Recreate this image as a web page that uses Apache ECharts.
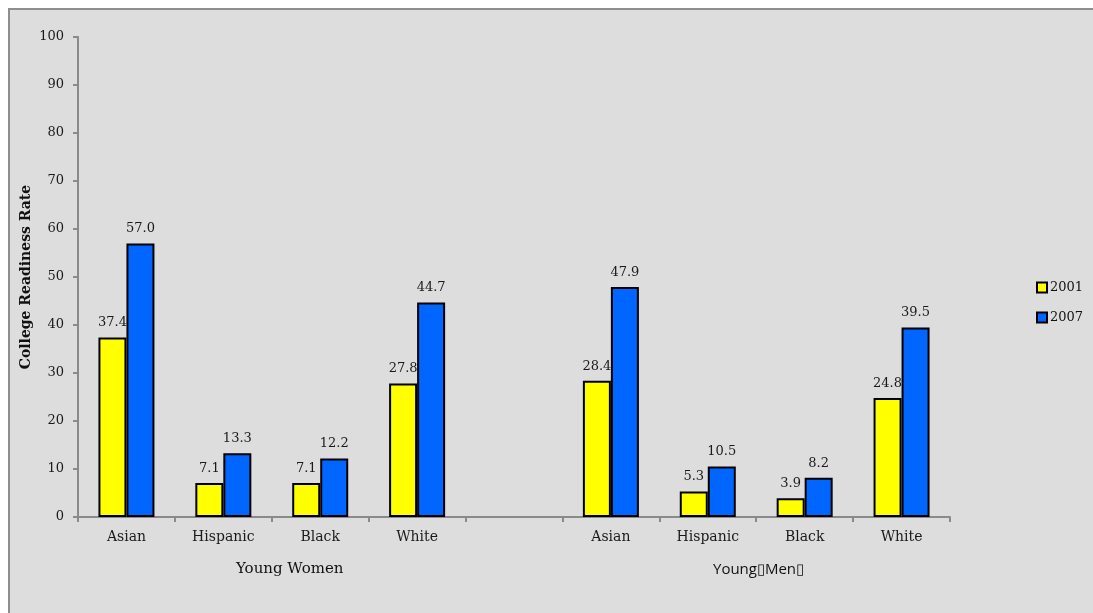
<!DOCTYPE html>
<html>
<head>
<meta charset="utf-8">
<script src="https://cdn.jsdelivr.net/npm/echarts@6/dist/echarts.min.js"></script>
<style>
  html, body { margin: 0; padding: 0; background: #ffffff; overflow: hidden; }
  #frame {
    position: absolute; left: 8px; top: 8px; width: 1200px; height: 700px;
    background: #dddddd; border-top: 2px solid #8e8e8e; border-left: 2px solid #8e8e8e;
  }
  #chart { position: absolute; left: 0; top: 0; width: 1093px; height: 613px; }
</style>
</head>
<body>
<div id="frame"></div>
<div id="chart"></div>
<script>
const categories = ['Asian', 'Hispanic', 'Black', 'White', '', 'Asian', 'Hispanic', 'Black', 'White']
const values2001 = [37.4, 7.1, 7.1, 27.8, null, 28.4, 5.3, 3.9, 24.8]
const values2007 = [57.0, 13.3, 12.2, 44.7, null, 47.9, 10.5, 8.2, 39.5]
const yTicks = [0, 10, 20, 30, 40, 50, 60, 70, 80, 90, 100]

const serif = '"DejaVu Serif", Georgia, serif'

const chart = echarts.init(document.getElementById('chart'), undefined, { renderer: 'canvas' })

function barSeries(name, data, color) {
  return {
    name,
    type: 'bar',
    data,
    barWidth: 28,
    barGap: '0%',
    itemStyle: { color, borderColor: '#000000', borderWidth: 2 },
    label: {
      show: true,
      position: 'top',
      distance: 8,
      color: '#1a1a1a',
      fontFamily: serif,
      fontSize: 13,
      formatter: (p) => p.value.toFixed(1),
    },
  }
}

chart.setOption({
  backgroundColor: 'transparent',
  animation: false,
  textStyle: { fontFamily: serif },
  grid: { left: 78, right: 143, top: 37, bottom: 96, containLabel: false },
  legend: {
    orient: 'vertical',
    left: 1031,
    top: 276,
    itemWidth: 10,
    itemHeight: 10,
    itemGap: 17,
    icon: 'rect',
    textStyle: { fontFamily: serif, fontSize: 13, color: '#111111', padding: [0, 0, 0, -2] },
    data: ['2001', '2007'],
  },
  xAxis: {
    type: 'category',
    data: categories,
    axisLine: { lineStyle: { color: '#8a8a8a', width: 2 } },
    axisTick: { show: true, length: 5, lineStyle: { color: '#8a8a8a', width: 2 } },
    axisLabel: { color: '#1a1a1a', fontFamily: serif, fontSize: 14, margin: 13 },
  },
  yAxis: {
    type: 'value',
    min: yTicks[0],
    max: yTicks[yTicks.length - 1],
    interval: 10,
    name: 'College Readiness Rate',
    nameLocation: 'middle',
    nameGap: 45,
    nameMoveOverlap: false,
    nameTextStyle: { fontFamily: serif, fontSize: 14, fontWeight: 'bold', color: '#111111' },
    axisLine: { show: true, lineStyle: { color: '#8a8a8a', width: 2 } },
    axisTick: { show: true, length: 5, lineStyle: { color: '#8a8a8a', width: 2 } },
    axisLabel: { color: '#1a1a1a', fontFamily: serif, fontSize: 13, margin: 14 },
    splitLine: { show: false },
  },
  graphic: [
    {
      type: 'text', left: 236, top: 562,
      style: { text: 'Young Women', font: '15px ' + serif, fill: '#111111' },
    },
    {
      type: 'text', left: 713, top: 562,
      style: { text: 'Young\u25AFMen\u25AF', font: '15px "Open Sans", sans-serif', fill: '#111111' },
    },
  ],
  series: [
    barSeries('2001', values2001, '#ffff00'),
    barSeries('2007', values2007, '#0066ff'),
  ],
})
</script>
</body>
</html>
